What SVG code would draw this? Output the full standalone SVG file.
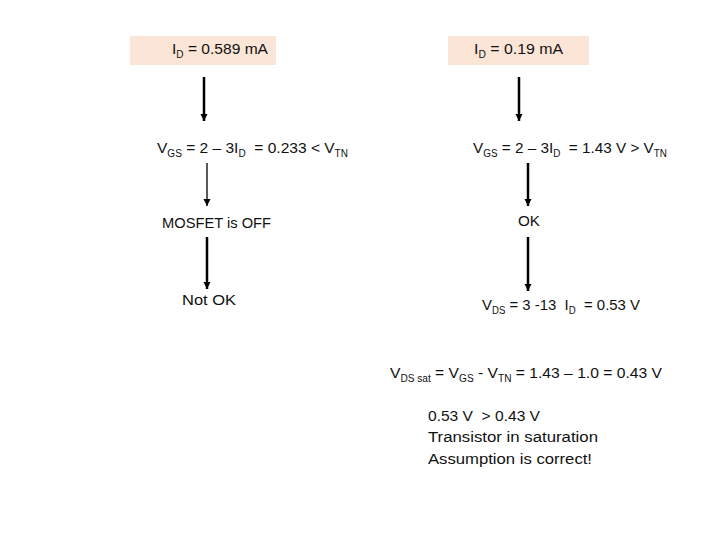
<svg xmlns="http://www.w3.org/2000/svg" width="720" height="540" viewBox="0 0 720 540">
<defs>
<marker id="ah" markerUnits="userSpaceOnUse" markerWidth="8" markerHeight="8" refX="7" refY="4" orient="auto" viewBox="0 0 8 8">
<path d="M0,0.5 L7,4 L0,7.5 Z" fill="#000"/>
</marker>
</defs>
<style>
text{font-family:"Liberation Sans",Arial,sans-serif;font-size:15.5px;fill:#111;white-space:pre}
.s{font-size:10px}
.box{fill:#fbe5d6}
.c{stroke:#000;stroke-width:2.5;fill:none}
.t{stroke:#000;stroke-width:1.3;fill:none}
</style>
<rect width="720" height="540" fill="#fff"/>
<g id="n1"><rect class="box" x="130" y="36" width="146" height="29"/><text x="172" y="54" textLength="96" lengthAdjust="spacingAndGlyphs">I<tspan class="s" dy="4">D</tspan><tspan dy="-4"> = 0.589 mA</tspan></text></g>
<g id="n2"><rect class="box" x="448" y="36" width="141" height="29"/><text x="474" y="54" textLength="89" lengthAdjust="spacingAndGlyphs">I<tspan class="s" dy="4">D</tspan><tspan dy="-4"> = 0.19 mA</tspan></text></g>
<g id="n3"><text x="157" y="153" textLength="191" lengthAdjust="spacingAndGlyphs">V<tspan class="s" dy="4">GS</tspan><tspan dy="-4"> = 2 – 3I</tspan><tspan class="s" dy="4">D</tspan><tspan dy="-4">  = 0.233 &lt; V</tspan><tspan class="s" dy="4">TN</tspan></text></g>
<g id="n4"><text x="473" y="153" textLength="194" lengthAdjust="spacingAndGlyphs">V<tspan class="s" dy="4">GS</tspan><tspan dy="-4"> = 2 – 3I</tspan><tspan class="s" dy="4">D</tspan><tspan dy="-4">  = 1.43 V &gt; V</tspan><tspan class="s" dy="4">TN</tspan></text></g>
<g id="n5"><text x="162" y="228" textLength="109" lengthAdjust="spacingAndGlyphs">MOSFET is OFF</text></g>
<g id="n6"><text x="518" y="226" textLength="22" lengthAdjust="spacingAndGlyphs">OK</text></g>
<g id="n7"><text x="182" y="305" textLength="54" lengthAdjust="spacingAndGlyphs">Not OK</text></g>
<g id="n8"><text x="482" y="310" textLength="158" lengthAdjust="spacingAndGlyphs">V<tspan class="s" dy="4">DS</tspan><tspan dy="-4"> = 3 -13  I</tspan><tspan class="s" dy="4">D</tspan><tspan dy="-4">  = 0.53 V</tspan></text></g>
<g id="n9"><text x="390" y="378" textLength="272" lengthAdjust="spacingAndGlyphs">V<tspan class="s" dy="4">DS sat</tspan><tspan dy="-4"> = V</tspan><tspan class="s" dy="4">GS</tspan><tspan dy="-4"> - V</tspan><tspan class="s" dy="4">TN</tspan><tspan dy="-4"> = 1.43 – 1.0 = 0.43 V</tspan></text></g>
<g id="n10"><text x="428" y="421" textLength="112" lengthAdjust="spacingAndGlyphs">0.53 V  &gt; 0.43 V</text><text x="428" y="442" textLength="170" lengthAdjust="spacingAndGlyphs">Transistor in saturation</text><text x="428" y="464" textLength="164" lengthAdjust="spacingAndGlyphs">Assumption is correct!</text></g>
<g id="connectors">
<line class="c" x1="204" y1="77" x2="204" y2="121" marker-end="url(#ah)"/>
<line class="c" x1="519" y1="77" x2="519" y2="121" marker-end="url(#ah)"/>
<line class="t" x1="207" y1="163" x2="207" y2="206" marker-end="url(#ah)"/>
<line class="c" x1="528" y1="163" x2="528" y2="206" marker-end="url(#ah)"/>
<line class="c" x1="207" y1="237" x2="207" y2="289" marker-end="url(#ah)"/>
<line class="c" x1="528" y1="237" x2="528" y2="291" marker-end="url(#ah)"/>
</g>
</svg>
